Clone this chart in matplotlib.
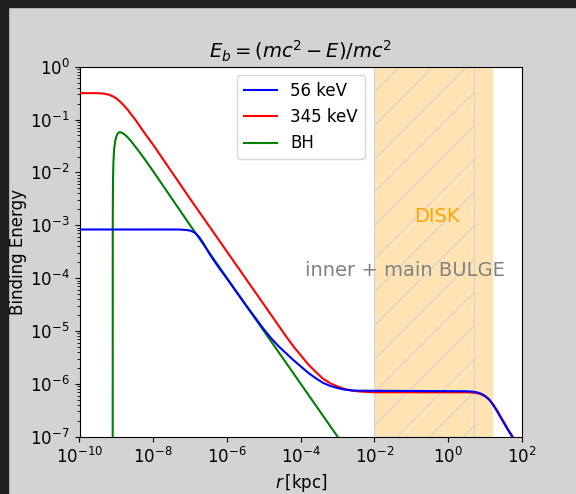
import matplotlib
matplotlib.use("Agg")
import matplotlib.pyplot as plt
from matplotlib.patches import Rectangle
import numpy as np

plt.rcParams["font.family"] = ["DejaVu Sans"]
plt.rcParams["font.size"] = 12
plt.rcParams["hatch.linewidth"] = 0.8

# values, as log10(r [kpc]) and log10(E_b)
LOG_R_56 = [-10.0, -7.3, -7.1, -7.0, -6.95, -6.9, -6.85, -6.8, -6.75, -6.7, -6.6,
            -6.5, -6.4, -6.3, -6.2, -6.0, -5.5, -5.0, -4.8, -4.6, -4.4, -4.2, -4.0,
            -3.8, -3.6, -3.4, -3.2, -3.0, -2.8, -2.6, -2.4, 0.5, 0.7, 0.8, 0.9,
            1.0, 1.1, 1.2, 1.3, 1.4, 1.5, 1.6, 1.7, 1.8]
LOG_E_56 = [-3.08, -3.08, -3.09, -3.10, -3.115, -3.13, -3.155, -3.19, -3.23, -3.28,
            -3.39, -3.51, -3.62, -3.72, -3.82, -4.01, -4.50, -4.97, -5.14, -5.29,
            -5.42, -5.55, -5.67, -5.79, -5.89, -5.98, -6.04, -6.08, -6.11, -6.125,
            -6.13, -6.14, -6.15, -6.165, -6.19, -6.23, -6.29, -6.38, -6.49, -6.61,
            -6.73, -6.85, -6.96, -7.08]

LOG_R_345 = [-10.0, -9.6, -9.4, -9.3, -9.2, -9.1, -9.0, -8.9, -8.8, -8.7, -8.6,
             -8.5, -8.4, -8.2, -8.0, -7.0, -6.0, -5.0, -4.6, -4.4, -4.2, -4.0,
             -3.8, -3.6, -3.4, -3.2, -3.0, -2.8, -2.6, -2.4, -2.0, 0.53, 0.73,
             0.83, 0.93, 1.03, 1.13, 1.23, 1.33, 1.43, 1.53, 1.63, 1.73, 1.83]
LOG_E_345 = [-0.50, -0.50, -0.505, -0.515, -0.53, -0.56, -0.60, -0.66, -0.73,
             -0.81, -0.90, -0.99, -1.09, -1.29, -1.48, -2.50, -3.50, -4.50, -4.90,
             -5.10, -5.29, -5.46, -5.63, -5.77, -5.90, -5.99, -6.05, -6.10, -6.13,
             -6.145, -6.16, -6.16, -6.17, -6.185, -6.21, -6.25, -6.31, -6.40,
             -6.51, -6.63, -6.75, -6.87, -6.98, -7.10]

LOG_R_BH = [-9.10, -9.098, -9.095, -9.09, -9.08, -9.06, -9.03, -9.0, -8.96,
            -8.92, -8.88, -8.8, -8.7, -8.6, -8.5, -8.4, -8.2, -8.0, -7.0, -6.0,
            -5.0, -4.0, -3.0, -2.9]
LOG_E_BH = [-8.0, -3.0, -2.5, -2.1, -1.8, -1.55, -1.40, -1.32, -1.26, -1.24,
            -1.24, -1.27, -1.33, -1.41, -1.50, -1.59, -1.78, -1.98, -3.00, -4.00,
            -5.00, -6.00, -7.00, -7.10]

SERIES_LABELS = ["56 keV", "345 keV", "BH"]
SERIES_COLORS = ["blue", "red", "green"]

BULGE_RANGE = [1e-2, 5.0]
DISK_RANGE = [1e-2, 16.0]

fig = plt.figure(figsize=(5.76, 4.94), dpi=100, facecolor="#d3d3d3")
# dark screenshot border on the left and top
fig.patches.append(Rectangle((0, 0), 8 / 576, 1, transform=fig.transFigure,
                             color="#1f1f1f", zorder=-10))
fig.patches.append(Rectangle((0, 1 - 7 / 494), 1, 7 / 494, transform=fig.transFigure,
                             color="#1f1f1f", zorder=-10))

ax = fig.add_axes([79.5 / 576, 1 - 436.7 / 494, 442.5 / 576, 370 / 494])

ax.axvspan(*DISK_RANGE, color="orange", alpha=0.3, lw=0)
ax.axvspan(*BULGE_RANGE, facecolor="none", edgecolor="lightgray", hatch="/", lw=0.8)

r56 = 10 ** np.array(LOG_R_56)
r345 = 10 ** np.array(LOG_R_345)
rbh = 10 ** np.array(LOG_R_BH)
h1, = ax.plot(r345, 10 ** np.array(LOG_E_345), color=SERIES_COLORS[1], lw=1.5, zorder=3)
h0, = ax.plot(r56, 10 ** np.array(LOG_E_56), color=SERIES_COLORS[0], lw=1.5, zorder=4)
h2, = ax.plot(rbh, 10 ** np.array(LOG_E_BH), color=SERIES_COLORS[2], lw=1.5, zorder=3)

ax.set_xscale("log")
ax.set_yscale("log")
ax.set_xlim(1e-10, 1e2)
ax.set_ylim(1e-7, 1e0)
ax.xaxis.set_minor_locator(matplotlib.ticker.NullLocator())

ax.text(0.48, 10 ** -2.84, "DISK", color="orange", fontsize=14, ha="center", va="center")
ax.text(0.066, 10 ** -3.85, "inner + main BULGE", color="gray", fontsize=14,
        ha="center", va="center")

ax.legend([h0, h1, h2], SERIES_LABELS, loc="upper center")
ax.set_title(r"$E_b = (mc^2 - E)/mc^2$", fontsize=14)
ax.set_xlabel(r"$r\,$[kpc]")
ax.set_ylabel("Binding Energy", labelpad=2)

fig.savefig("out.png", dpi=100, facecolor=fig.get_facecolor())
